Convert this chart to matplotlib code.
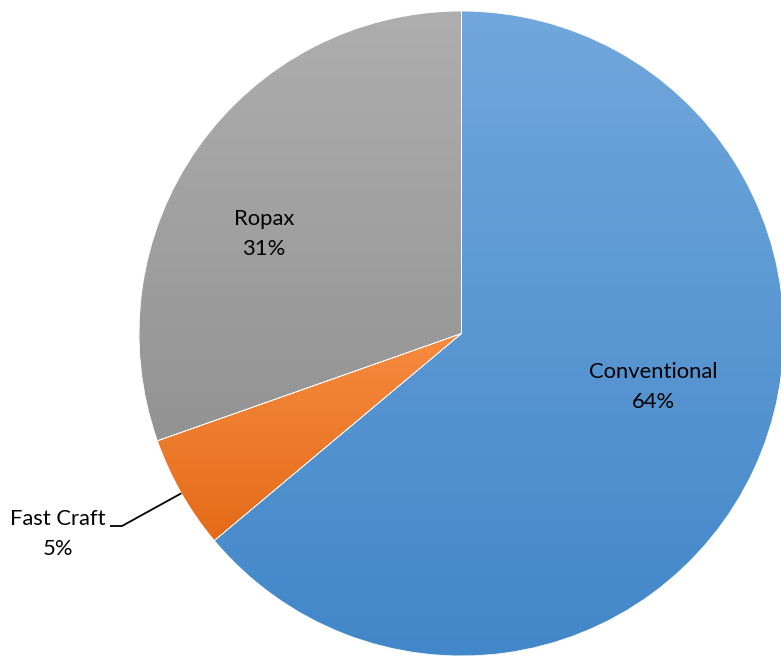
import numpy as np
import matplotlib
matplotlib.use("Agg")
import matplotlib.pyplot as plt
from matplotlib.colors import LinearSegmentedColormap

# ---- data ----
categories = ["Conventional", "Fast Craft", "Ropax"]
shares = [63.9, 5.7, 30.4]
pct_labels = ["64%", "5%", "31%"]

# ---- style ----
top_colors = ["#71A7DC", "#F68B3F", "#AEAEAE"]
bottom_colors = ["#4287C9", "#E46B18", "#939393"]

W, H = 781, 657
fig = plt.figure(figsize=(W / 100, H / 100), dpi=100)
ax = fig.add_axes([0, 0, 1, 1])

cx, cy, R = 461.5, H - 333.5, 322.5
wedges, _ = ax.pie(shares, startangle=90, counterclock=False, center=(cx, cy),
                   radius=R, frame=True,
                   wedgeprops=dict(edgecolor="white", linewidth=0.6))
ax.set_aspect("equal")
ax.axis("off")

for w, tc, bc in zip(wedges, top_colors, bottom_colors):
    ext = w.get_path().get_extents(w.get_patch_transform())
    x0, y0, x1, y1 = ext.x0, ext.y0, ext.x1, ext.y1
    cmap = LinearSegmentedColormap.from_list("g", [bc, tc])
    grad = np.linspace(0, 1, 256).reshape(-1, 1)
    im = ax.imshow(grad, cmap=cmap, extent=(x0, x1, y0, y1), origin="lower",
                   aspect="auto", zorder=1.5, interpolation="bilinear")
    im.set_clip_path(w)
    w.set_facecolor("none")
    w.set_zorder(2)

ax.set_xlim(0, W)
ax.set_ylim(0, H)

font = dict(family=["Lato", "DejaVu Sans"], fontsize=15.8, color="black")

def label(x, y, name, pct):
    ax.text(x, H - y, name, ha="center", va="center", zorder=5, **font)
    ax.text(x, H - y - 30, pct, ha="center", va="center", zorder=5, **font)

label(653, 371.5, categories[0], pct_labels[0])
label(264, 219, categories[2], pct_labels[2])
label(58, 519, categories[1], pct_labels[1])

# leader line for Fast Craft to the wedge edge at mid angle
fw = wedges[1]
mid = np.deg2rad((fw.theta1 + fw.theta2) / 2)
ex, ey = cx + R * np.cos(mid), cy + R * np.sin(mid)
ax.plot([110, 122, ex], [H - 526, H - 526, ey], color="black", lw=1.3,
        zorder=4, solid_capstyle="butt")

fig.savefig("out.png", dpi=100, facecolor="white")
